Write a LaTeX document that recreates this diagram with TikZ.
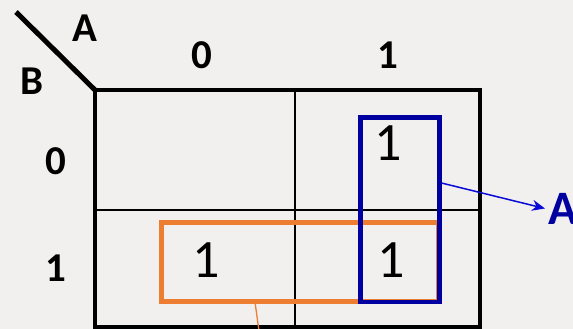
\documentclass[tikz,border=0pt]{standalone}
\usepackage{fontspec}
\setmainfont{Carlito}
\usepackage{xcolor}
\usepackage{tikz}
\usetikzlibrary{arrows.meta}
\definecolor{kback}{RGB}{242,240,239}
\definecolor{kblue}{RGB}{0,0,160}
\definecolor{karrow}{RGB}{10,10,215}
\definecolor{korange}{RGB}{237,125,49}
\tikzset{hdr/.style={font=\bfseries\fontsize{41}{41}\selectfont,inner sep=0pt},
val/.style={font=\fontsize{54}{54}\selectfont,inner sep=0pt},
grp/.style={line width=4.5pt,inner sep=0pt,minimum width=#1}}
\begin{document}
\begin{tikzpicture}[x=1pt,y=-1pt,>=stealth]
\useasboundingbox[fill=kback](0,0) rectangle (573,329);
% map grid
\draw[line width=2pt](294.5,90)--(294.5,327) (95,209.5)--(480,209.5);
\draw[line width=4pt](95,90) rectangle (480,327);
\draw[line width=5pt](16,12)--(95,90);
% variables and headers
\node[hdr] (varA) at (84.5,28.5) {A};
\node[hdr] (varB) at (32,81.5) {B};
\node[hdr] (colz) at (202,55) {0};
\node[hdr] (colo) at (388,55) {1};
\node[hdr] (rowz) at (55.5,161.5) {0};
\node[hdr] (rowo) at (56,268) {1};
% groups
\node[grp=276.5pt,draw=korange,minimum height=79pt] (grpB) at (299.75,262) {};
\node[grp=79pt,draw=kblue,minimum height=184.5pt] (grpA) at (400,209.75) {};
% cell values
\node[val] (mone) at (388.5,143.5) {1};
\node[val] (mtwo) at (206.5,260.5) {1};
\node[val] (mthree) at (391.5,260) {1};
% output of the blue group
\coordinate (arrA) at (441.5,183);
\node[hdr,font=\bfseries\fontsize{48}{48}\selectfont,text=kblue,inner sep=3pt,anchor=west] (outA) at (545,208.5) {A};
\draw[-{Stealth[length=13pt,width=11pt]},karrow,line width=1.5pt](arrA)--(outA.west);
% tail of the orange group
\coordinate (tailB) at (255,302);
\coordinate (endB) at (259,331);
\draw[korange,line width=1.3pt](tailB)--(endB);
\end{tikzpicture}
\end{document}
